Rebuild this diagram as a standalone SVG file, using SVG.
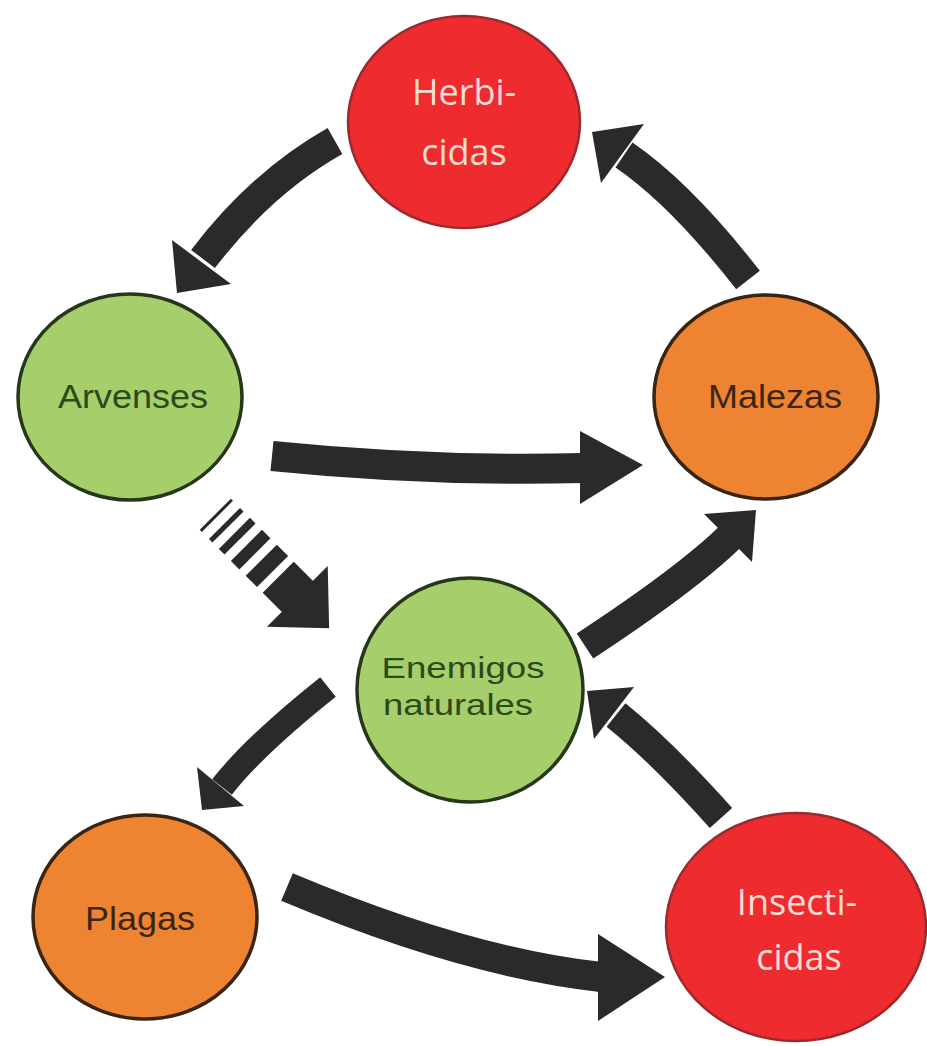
<svg xmlns="http://www.w3.org/2000/svg" width="927" height="1046" viewBox="0 0 927 1046">
  <style>
    .bg { fill: #ffffff; }
    .red { fill: #ee2c2f; stroke: #9a2a2e; stroke-width: 2.5; }
    .green { fill: #a6cf6c; stroke: #26381a; stroke-width: 3.5; }
    .orange { fill: #ee8432; stroke: #3a2412; stroke-width: 3.5; }
    .lbl-red { font-family: "Open Sans", "Liberation Sans", sans-serif; font-size: 36px; fill: #f8dcd2; text-anchor: middle; }
    .lbl-green { font-family: "Liberation Sans", "DejaVu Sans", sans-serif; font-size: 34px; fill: #2b4a1a; text-anchor: middle; }
    .lbl-green.tight { font-size: 30px; }
    .lbl-orange { font-family: "Liberation Sans", "DejaVu Sans", sans-serif; font-size: 34px; fill: #3b2614; text-anchor: middle; }
    .shaft { fill: none; stroke: #2a2a2b; stroke-width: 30; stroke-linecap: butt; }
    .shaft.thin { stroke-width: 25; }
    .head { fill: #2a2a2b; }
  </style>

  <rect class="bg" x="0" y="0" width="927" height="1046"/>

  <!-- connectors -->
  <g id="connectors">
    <!-- Herbicidas to Arvenses -->
    <g id="e-herbicidas-arvenses">
      <path class="shaft" d="M335,141 Q262,182 203,259"/>
      <polygon class="head" points="172,240 231,284 177,293"/>
    </g>
    <!-- Malezas to Herbicidas -->
    <g id="e-malezas-herbicidas">
      <path class="shaft" d="M748,280 Q681,194 624,155"/>
      <polygon class="head" points="644,124 601,183 592,132"/>
    </g>
    <!-- Arvenses to Malezas -->
    <g id="e-arvenses-malezas">
      <path class="shaft" d="M272,456 Q430,472 584,468"/>
      <polygon class="head" points="580,431 643,465 580,504"/>
    </g>
    <!-- Arvenses to Enemigos naturales (banded) -->
    <g id="e-arvenses-enemigos" transform="translate(216,515) rotate(45)">
      <rect class="head" x="-1" y="-22" width="3" height="44"/>
      <rect class="head" x="12" y="-22" width="5" height="44"/>
      <rect class="head" x="26" y="-22" width="8" height="44"/>
      <rect class="head" x="43" y="-22" width="12" height="44"/>
      <rect class="head" x="64" y="-22" width="16" height="44"/>
      <rect class="head" x="88" y="-22" width="28" height="44"/>
      <polygon class="head" points="115,-43 160,0 115,43"/>
    </g>
    <!-- Enemigos naturales to Malezas -->
    <g id="e-enemigos-malezas">
      <path class="shaft" d="M585,646 Q687,579 731,536"/>
      <polygon class="head" points="704,514 752,562 756,510"/>
    </g>
    <!-- Enemigos naturales to Plagas -->
    <g id="e-enemigos-plagas">
      <path class="shaft thin" d="M328,687 Q254,746 222,787"/>
      <polygon class="head" points="197,767 244,806 202,810"/>
    </g>
    <!-- Insecticidas to Enemigos naturales -->
    <g id="e-insecticidas-enemigos">
      <path class="shaft" d="M721,818 Q662,752 616,715"/>
      <polygon class="head" points="634,687 594,739 587,691"/>
    </g>
    <!-- Plagas to Insecticidas -->
    <g id="e-plagas-insecticidas">
      <path class="shaft" d="M287,887 Q465,962 601,977"/>
      <polygon class="head" points="598,934 665,977 598,1021"/>
    </g>
  </g>

  <!-- nodes -->
  <g id="n-herbicidas">
    <ellipse class="red" cx="464" cy="122" rx="116" ry="106"/>
    <text class="lbl-red" x="464" y="105">Herbi-</text>
    <text class="lbl-red" x="464" y="165">cidas</text>
  </g>
  <g id="n-arvenses">
    <ellipse class="green" cx="130" cy="397" rx="112" ry="103"/>
    <text class="lbl-green" x="133" y="408" textLength="150" lengthAdjust="spacingAndGlyphs">Arvenses</text>
  </g>
  <g id="n-malezas">
    <ellipse class="orange" cx="766" cy="397" rx="112" ry="102"/>
    <text class="lbl-orange" x="775" y="408" textLength="134" lengthAdjust="spacingAndGlyphs">Malezas</text>
  </g>
  <g id="n-enemigos">
    <ellipse class="green" cx="470" cy="690" rx="113" ry="112"/>
    <text class="lbl-green tight" x="463" y="678" textLength="163" lengthAdjust="spacingAndGlyphs">Enemigos</text>
    <text class="lbl-green tight" x="458" y="715" textLength="150" lengthAdjust="spacingAndGlyphs">naturales</text>
  </g>
  <g id="n-plagas">
    <ellipse class="orange" cx="145" cy="917" rx="112" ry="102"/>
    <text class="lbl-orange" x="140" y="930" textLength="110" lengthAdjust="spacingAndGlyphs">Plagas</text>
  </g>
  <g id="n-insecticidas">
    <ellipse class="red" cx="796" cy="927" rx="130" ry="114"/>
    <text class="lbl-red" x="797" y="915">Insecti-</text>
    <text class="lbl-red" x="799" y="970">cidas</text>
  </g>
</svg>
